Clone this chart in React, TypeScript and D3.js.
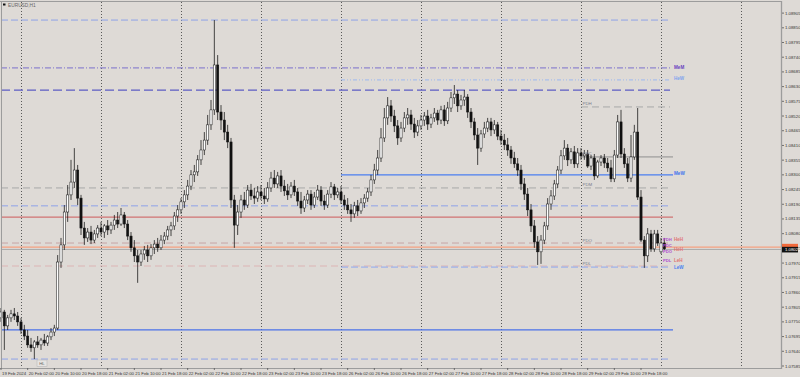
import React from 'react';
import * as d3 from 'd3';

// ---- Candle data (EURUSD H1, 19 Feb 2024 18:00 -> 1 Mar 01:00), one entry per bar ----
const opens = [
1.07765,1.07787,1.07735,1.07765,1.07780,1.07772,1.07750,1.07720,1.07697,1.07664,
1.07653,1.07675,1.07664,1.07682,1.07671,1.07694,1.07712,1.07727,1.07974,1.08038,
1.08161,1.08225,1.08273,1.08318,1.08213,1.08101,1.08064,1.08086,1.08056,1.08079,
1.08101,1.08086,1.08109,1.08094,1.08112,1.08131,1.08116,1.08150,1.08116,1.08071,
1.08027,1.07997,1.07974,1.08004,1.08019,1.07997,1.08027,1.08041,1.08027,1.08056,
1.08071,1.08094,1.08109,1.08146,1.08169,1.08199,1.08225,1.08258,1.08300,1.08311,
1.08356,1.08393,1.08430,1.08487,1.08543,1.08711,1.08535,1.08505,1.08460,1.08423,
1.08206,1.08112,1.08161,1.08206,1.08187,1.08243,1.08221,1.08213,1.08236,1.08221,
1.08210,1.08251,1.08288,1.08266,1.08296,1.08258,1.08240,1.08225,1.08258,1.08236,
1.08202,1.08176,1.08206,1.08228,1.08187,1.08217,1.08243,1.08202,1.08187,1.08228,
1.08255,1.08225,1.08236,1.08206,1.08187,1.08169,1.08154,1.08184,1.08165,1.08195,
1.08213,1.08236,1.08281,1.08318,1.08363,1.08438,1.08513,1.08558,1.08520,1.08483,
1.08438,1.08475,1.08513,1.08524,1.08490,1.08460,1.08483,1.08505,1.08520,1.08490,
1.08513,1.08531,1.08505,1.08543,1.08502,1.08550,1.08588,1.08602,1.08558,1.08580,
1.08591,1.08535,1.08498,1.08449,1.08400,1.08453,1.08475,1.08498,1.08468,1.08487,
1.08445,1.08430,1.08412,1.08393,1.08363,1.08341,1.08318,1.08266,1.08228,1.08169,
1.08109,1.08049,1.08012,1.08056,1.08109,1.08191,1.08221,1.08266,1.08318,1.08371,
1.08400,1.08356,1.08386,1.08341,1.08382,1.08371,1.08378,1.08333,1.08363,1.08296,
1.08348,1.08363,1.08344,1.08326,1.08285,1.08374,1.08498,1.08378,1.08341,1.08288,
1.08367,1.08460,1.08217,1.08056,1.07997,1.08079,1.08023,1.08079,1.08012,1.08045,
];
const highs = [
1.07802,1.07795,1.07776,1.07795,1.07802,1.07787,1.07765,1.07739,1.07720,1.07690,
1.07682,1.07697,1.07690,1.07705,1.07701,1.07727,1.07739,1.08000,1.08064,1.08187,
1.08262,1.08356,1.08400,1.08337,1.08225,1.08124,1.08101,1.08109,1.08094,1.08112,
1.08124,1.08116,1.08131,1.08124,1.08150,1.08161,1.08176,1.08161,1.08131,1.08086,
1.08056,1.08019,1.08019,1.08034,1.08038,1.08041,1.08056,1.08064,1.08075,1.08086,
1.08109,1.08124,1.08161,1.08187,1.08213,1.08243,1.08281,1.08318,1.08337,1.08374,
1.08430,1.08460,1.08524,1.08580,1.08879,1.08748,1.08561,1.08535,1.08487,1.08438,
1.08225,1.08187,1.08225,1.08236,1.08262,1.08266,1.08251,1.08258,1.08262,1.08251,
1.08273,1.08311,1.08318,1.08311,1.08318,1.08281,1.08266,1.08273,1.08281,1.08251,
1.08236,1.08221,1.08243,1.08243,1.08236,1.08262,1.08258,1.08225,1.08243,1.08273,
1.08266,1.08251,1.08258,1.08225,1.08213,1.08191,1.08199,1.08206,1.08213,1.08228,
1.08251,1.08300,1.08341,1.08393,1.08475,1.08550,1.08591,1.08580,1.08543,1.08505,
1.08498,1.08535,1.08550,1.08543,1.08513,1.08505,1.08524,1.08535,1.08543,1.08528,
1.08550,1.08543,1.08558,1.08561,1.08573,1.08610,1.08636,1.08617,1.08599,1.08617,
1.08602,1.08550,1.08513,1.08475,1.08468,1.08498,1.08513,1.08513,1.08505,1.08498,
1.08468,1.08453,1.08438,1.08408,1.08386,1.08363,1.08337,1.08288,1.08251,1.08191,
1.08131,1.08071,1.08075,1.08124,1.08213,1.08243,1.08281,1.08333,1.08393,1.08430,
1.08415,1.08400,1.08408,1.08400,1.08400,1.08393,1.08393,1.08374,1.08378,1.08356,
1.08374,1.08378,1.08363,1.08356,1.08393,1.08524,1.08543,1.08400,1.08363,1.08449,
1.08487,1.08550,1.08243,1.08071,1.08101,1.08094,1.08094,1.08094,1.08064,1.08064,
];
const lows = [
1.07750,1.07645,1.07720,1.07750,1.07757,1.07735,1.07705,1.07682,1.07653,1.07638,
1.07611,1.07653,1.07645,1.07660,1.07660,1.07682,1.07697,1.07720,1.07952,1.08019,
1.08124,1.08206,1.08251,1.08187,1.08075,1.08038,1.08049,1.08041,1.08045,1.08064,
1.08071,1.08064,1.08075,1.08079,1.08094,1.08101,1.08109,1.08101,1.08056,1.08012,
1.07974,1.07896,1.07959,1.07982,1.07974,1.07982,1.08004,1.08012,1.08019,1.08041,
1.08056,1.08071,1.08094,1.08124,1.08154,1.08176,1.08206,1.08243,1.08273,1.08296,
1.08337,1.08374,1.08412,1.08468,1.08524,1.08505,1.08468,1.08430,1.08400,1.08176,
1.08027,1.08075,1.08139,1.08169,1.08176,1.08206,1.08191,1.08199,1.08206,1.08191,
1.08199,1.08236,1.08251,1.08251,1.08236,1.08221,1.08206,1.08213,1.08221,1.08184,
1.08154,1.08161,1.08191,1.08169,1.08176,1.08206,1.08184,1.08169,1.08176,1.08213,
1.08206,1.08213,1.08191,1.08169,1.08154,1.08124,1.08139,1.08146,1.08154,1.08176,
1.08199,1.08221,1.08266,1.08300,1.08348,1.08423,1.08487,1.08498,1.08460,1.08412,
1.08423,1.08460,1.08487,1.08468,1.08438,1.08445,1.08468,1.08483,1.08468,1.08475,
1.08498,1.08487,1.08490,1.08483,1.08490,1.08535,1.08565,1.08535,1.08543,1.08558,
1.08513,1.08475,1.08430,1.08337,1.08386,1.08438,1.08460,1.08445,1.08453,1.08430,
1.08412,1.08393,1.08371,1.08341,1.08326,1.08296,1.08243,1.08206,1.08146,1.08086,
1.08027,1.07963,1.07967,1.08041,1.08094,1.08169,1.08206,1.08251,1.08303,1.08356,
1.08333,1.08341,1.08326,1.08326,1.08356,1.08356,1.08326,1.08318,1.08281,1.08288,
1.08333,1.08326,1.08311,1.08273,1.08273,1.08363,1.08363,1.08326,1.08273,1.08273,
1.08356,1.08206,1.08049,1.07952,1.07974,1.08012,1.08012,1.08034,1.08004,1.08019,
];
const closes = [
1.07787,1.07735,1.07765,1.07780,1.07772,1.07750,1.07720,1.07697,1.07664,1.07653,
1.07675,1.07664,1.07682,1.07671,1.07694,1.07712,1.07727,1.07974,1.08038,1.08161,
1.08225,1.08273,1.08318,1.08213,1.08101,1.08064,1.08086,1.08056,1.08079,1.08101,
1.08086,1.08109,1.08094,1.08112,1.08131,1.08116,1.08150,1.08116,1.08071,1.08027,
1.07997,1.07974,1.08004,1.08019,1.07997,1.08027,1.08041,1.08027,1.08056,1.08071,
1.08094,1.08109,1.08146,1.08169,1.08199,1.08225,1.08258,1.08300,1.08311,1.08356,
1.08393,1.08430,1.08487,1.08543,1.08711,1.08535,1.08505,1.08460,1.08423,1.08206,
1.08112,1.08161,1.08206,1.08187,1.08243,1.08221,1.08213,1.08236,1.08221,1.08210,
1.08251,1.08288,1.08266,1.08296,1.08258,1.08240,1.08225,1.08258,1.08236,1.08202,
1.08176,1.08206,1.08228,1.08187,1.08217,1.08243,1.08202,1.08187,1.08228,1.08255,
1.08225,1.08236,1.08206,1.08187,1.08169,1.08154,1.08184,1.08165,1.08195,1.08213,
1.08236,1.08281,1.08318,1.08363,1.08438,1.08513,1.08558,1.08520,1.08483,1.08438,
1.08475,1.08513,1.08524,1.08490,1.08460,1.08483,1.08505,1.08520,1.08490,1.08513,
1.08531,1.08505,1.08543,1.08502,1.08550,1.08588,1.08602,1.08558,1.08580,1.08591,
1.08535,1.08498,1.08449,1.08400,1.08453,1.08475,1.08498,1.08468,1.08487,1.08445,
1.08430,1.08412,1.08393,1.08363,1.08341,1.08318,1.08266,1.08228,1.08169,1.08109,
1.08049,1.08012,1.08056,1.08109,1.08191,1.08221,1.08266,1.08318,1.08371,1.08400,
1.08356,1.08386,1.08341,1.08382,1.08371,1.08378,1.08333,1.08363,1.08296,1.08348,
1.08363,1.08344,1.08326,1.08285,1.08374,1.08498,1.08378,1.08341,1.08288,1.08367,
1.08460,1.08217,1.08056,1.07997,1.08079,1.08023,1.08079,1.08045,1.08045,1.08023,
];

// ---- Axis labels ----
const priceTicks = [
1.08905,1.08850,1.08795,1.08740,1.08685,1.08630,1.08575,1.08520,1.08465,1.08410,
1.08355,1.08300,1.08245,1.08190,1.08135,1.08080,1.08025,1.07970,1.07915,1.07860,
1.07805,1.07750,1.07695,1.07640,1.07585,
];
const timeLabels = [
'19 Feb 2024','20 Feb 02:00','20 Feb 10:00','20 Feb 18:00','21 Feb 02:00','21 Feb 10:00',
'21 Feb 18:00','22 Feb 02:00','22 Feb 10:00','22 Feb 18:00','23 Feb 02:00','23 Feb 10:00',
'23 Feb 18:00','26 Feb 02:00','26 Feb 10:00','26 Feb 18:00','27 Feb 02:00','27 Feb 10:00',
'27 Feb 18:00','28 Feb 02:00','28 Feb 10:00','28 Feb 18:00','29 Feb 02:00','29 Feb 10:00',
'29 Feb 18:00',
];
const timeLabelBars = [0,8,16,24,32,40,48,56,64,72,80,88,96,104,112,120,128,136,144,152,160,168,176,184,192];
const daySeparatorBars = [6,30,54,78,102,126,150,174,198,222];

// ---- Indicator levels (prices) ----
const monthHigh = 1.08879;
const monthMidLevel = 1.08700;
const weekHigh = 1.08655;
const upperBand = 1.08617;
const prevDayHigh = 1.08554;
const prevDayClose = 1.08367;
const weekMid = 1.08300;
const prevDayMid = 1.08251;
const upperDashed = 1.08184;
const redLevel = 1.08142;
const prevDayOpen = 1.08045;
const markerLine = 1.08030;
const bidPrice = 1.08021;
const prevDayLow = 1.07959;
const weekLow = 1.07955;
const lowerBlue = 1.07720;
const monthLow = 1.07611;

const FONT = 'Liberation Sans, Arial, sans-serif';

export default function App() {
  const x = d3.scaleLinear().domain([0, 234]).range([1, 781]);
  const y = d3.scaleLinear().domain([1.07585, 1.08905]).range([366, 13.1]);
  const END = 200.7; // bar index where indicator lines stop
  const LBL = 201.6;
  const WEEK0 = 102;
  const DAY0 = 174;

  const lines = [
    { p: monthHigh, a: 0, b: END, c: '#8ea2e8', d: '7,3', w: 1 },
    { p: monthMidLevel, a: 0, b: END, c: '#7a70cc', d: '6,2,1,2', w: 1 },
    { p: weekHigh, a: WEEK0, b: END, c: '#9cb8f0', d: '4,2,1,2,1,2', w: 1 },
    { p: upperBand, a: 0, b: END, c: '#5c5cc4', d: '9,4', w: 1.3 },
    { p: prevDayHigh, a: DAY0, b: END, c: '#a8a8a8', d: '7,4', w: 1 },
    { p: prevDayClose, a: DAY0, b: LBL, c: '#8e8e8e', d: '', w: 1 },
    { p: weekMid, a: WEEK0, b: LBL, c: '#4a7ef0', d: '', w: 1.3 },
    { p: prevDayMid, a: 0, b: END, c: '#a8a8a8', d: '7,4', w: 1 },
    { p: upperDashed, a: 0, b: END, c: '#8ea2e8', d: '7,3', w: 1 },
    { p: redLevel, a: 0, b: LBL, c: '#d07272', d: '', w: 1.3 },
    { p: prevDayOpen, a: 0, b: END, c: '#c8a4a4', d: '7,4', w: 1 },
    { p: markerLine, a: 0, b: 234, c: '#f4a080', d: '', w: 1.3 },
    { p: bidPrice, a: 0, b: 234, c: '#a9a9a9', d: '', w: 1 },
    { p: prevDayLow, a: 0, b: END, c: '#dcb4b4', d: '7,4', w: 1 },
    { p: weekLow, a: WEEK0, b: END, c: '#8eaaf0', d: '7,3', w: 1 },
    { p: lowerBlue, a: 0, b: LBL, c: '#4a70e8', d: '', w: 1.3 },
    { p: monthLow, a: 0, b: END, c: '#8ea2e8', d: '7,3', w: 1 },
  ];

  const leftLabels = [
    { p: prevDayHigh, t: 'PDH' },
    { p: prevDayClose, t: 'PDC' },
    { p: prevDayMid, t: 'PDM' },
    { p: prevDayOpen, t: 'PDO' },
    { p: prevDayLow, t: 'PDL' },
  ];
  const rightLabels = [
    { p: monthMidLevel, t: 'MeM', c: '#6a3fc0', dy: -1 },
    { p: weekHigh, t: 'HeW', c: '#7fa4ee', dy: -1.5 },
    { p: weekMid, t: 'MeW', c: '#3f72ee', dy: -1 },
    { p: 1.08060, t: 'HeH', c: '#e07575', dy: 0 },
    { p: 1.08020, t: 'HeH', c: '#e07575', dy: 0 },
    { p: 1.07980, t: 'LeH', c: '#e07575', dy: 0 },
    { p: weekLow, t: 'LeW', c: '#4a80f0', dy: 0 },
  ];
  const purpleLabels = [
    { p: 1.08060, t: 'PDH' },
    { p: 1.08036, t: 'PDC' },
    { p: 1.08012, t: 'PDO' },
    { p: 1.07980, t: 'PDL' },
  ];

  const bw = 2.2;

  return (
    <svg width={800} height={377} style={{ position: 'fixed', left: 0, top: 0, display: 'block' }}
      xmlns="http://www.w3.org/2000/svg">
      <rect x={0} y={0} width={800} height={377} fill="#dedad6" />
      {/* day separators */}
      {daySeparatorBars.map((b) => (
        <line key={'s' + b} x1={Math.round(x(b)) + 0.5} x2={Math.round(x(b)) + 0.5} y1={2} y2={368}
          stroke="#5a5a5a" strokeWidth={1} strokeDasharray="1,2" />
      ))}
      {/* levels */}
      {lines.map((l, k) => (
        <line key={'l' + k} x1={x(l.a)} x2={x(l.b)} y1={y(l.p)} y2={y(l.p)} stroke={l.c}
          strokeWidth={l.w} strokeDasharray={l.d || undefined} />
      ))}
      {/* candles */}
      {closes.map((c, i) => {
        const o = opens[i];
        const xc = x(i);
        const bull = c >= o;
        const top = y(Math.max(o, c));
        const bot = y(Math.min(o, c));
        return (
          <g key={'c' + i}>
            <line x1={xc} x2={xc} y1={y(highs[i])} y2={y(lows[i])} stroke="#111" strokeWidth={0.75} />
            <rect x={xc - bw / 2} y={top} width={bw} height={Math.max(0.8, bot - top)}
              fill={bull ? '#ffffff' : '#111111'} stroke="#111" strokeWidth={0.5} />
          </g>
        );
      })}
      {/* left level labels */}
      {leftLabels.map((l) => (
        <text key={'ll' + l.t} x={x(DAY0) + 1.5} y={y(l.p) - 1.5} fontSize={4.4} fontFamily={FONT} fill="#7c7c8c">{l.t}</text>
      ))}
      {/* right level labels */}
      {rightLabels.map((l, k) => (
        <text key={'rl' + k} x={x(LBL) + 1} y={y(l.p) + 1.6 + l.dy} fontSize={4.6} fontWeight="bold" fontFamily={FONT} fill={l.c}>{l.t}</text>
      ))}
      {purpleLabels.map((l, k) => (
        <text key={'pl' + k} x={x(198.6)} y={y(l.p) + 1.5} fontSize={4.2} fontWeight="bold" fontFamily={FONT} fill="#b050d0">{l.t}</text>
      ))}
      {/* HL box */}
      <rect x={37} y={360} width={10} height={6.5} fill="#e6e4e2" stroke="#b8b8b8" strokeWidth={0.6} />
      <text x={42} y={365} fontSize={4.4} fontFamily={FONT} textAnchor="middle" fill="#666">HL</text>
      {/* frame */}
      <line x1={0} x2={782} y1={1.5} y2={1.5} stroke="#9c9c9c" strokeWidth={1} />
      <line x1={1.5} x2={1.5} y1={1} y2={368} stroke="#9c9c9c" strokeWidth={1} />
      <line x1={781.5} x2={781.5} y1={1} y2={369} stroke="#9c9c9c" strokeWidth={1.3} />
      <line x1={0} x2={782} y1={368.5} y2={368.5} stroke="#9c9c9c" strokeWidth={1} />
      {/* price axis */}
      {priceTicks.map((p) => (
        <g key={'p' + p}>
          <line x1={782} x2={784} y1={y(p)} y2={y(p)} stroke="#555" strokeWidth={0.8} />
          <text x={785} y={y(p) + 1.5} fontSize={4.3} fontFamily={FONT} fill="#333">{p.toFixed(5)}</text>
        </g>
      ))}
      {/* current price labels */}
      <rect x={782} y={y(markerLine) - 3.2} width={16} height={3.6} fill="#f06a3c" />
      <rect x={782} y={y(bidPrice) - 2.6} width={16} height={5.6} fill="#111" />
      <text x={785} y={y(bidPrice) + 1.6} fontSize={4.3} fontFamily={FONT} fill="#fff">{bidPrice.toFixed(5)}</text>
      {/* time axis */}
      {timeLabels.map((t, k) => (
        <g key={'t' + k}>
          <line x1={x(timeLabelBars[k])} x2={x(timeLabelBars[k])} y1={368} y2={370} stroke="#555" strokeWidth={0.8} />
          <text x={x(timeLabelBars[k]) + 1} y={374.5} fontSize={4.3} fontFamily={FONT} fill="#333">{t}</text>
        </g>
      ))}
      {/* title */}
      <rect x={3} y={3.5} width={2.5} height={2} fill="#111" />
      <text x={8} y={6.5} fontSize={4.8} fontFamily={FONT} fill="#666">EURUSD,H1</text>
    </svg>
  );
}
